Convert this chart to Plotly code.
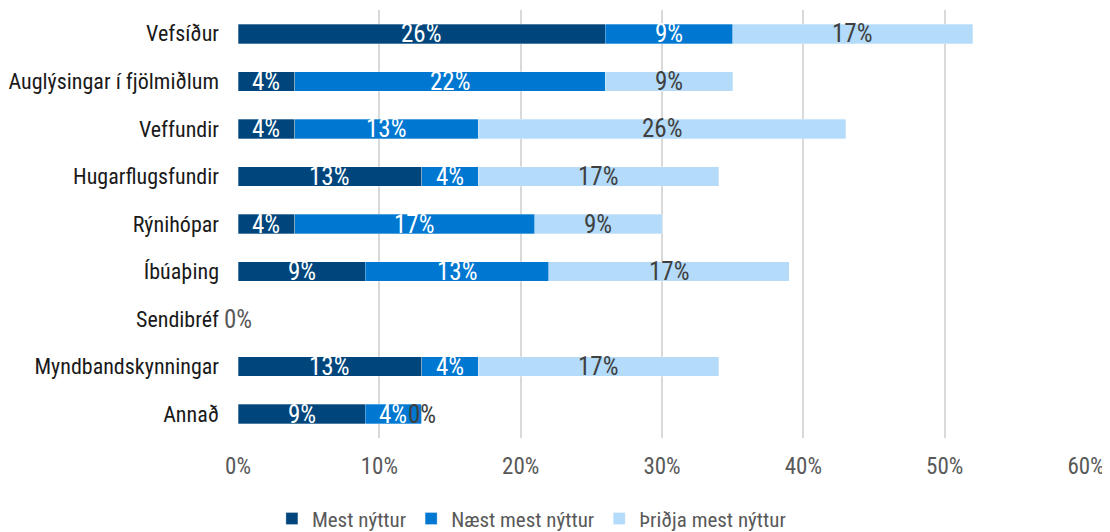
import plotly.graph_objects as go

categories = ["Vefsíður", "Auglýsingar í fjölmiðlum", "Veffundir", "Hugarflugsfundir",
              "Rýnihópar", "Íbúaþing", "Sendibréf", "Myndbandskynningar", "Annað"]
mest = [26, 4, 4, 13, 4, 9, 0, 13, 9]
naest = [9, 22, 13, 4, 17, 13, 0, 4, 4]
thridja = [17, 9, 26, 17, 9, 17, 0, 17, 0]
series_names = ["Mest nýttur", "Næst mest nýttur", "Þriðja mest nýttur"]
x_ticks = [0, 10, 20, 30, 40, 50, 60]

colors = ["#00467C", "#0077D0", "#B4DCFA"]
label_colors = ["#FFFFFF", "#FFFFFF", "#404040"]
FONT = "Roboto Condensed, sans-serif"

fig = go.Figure()
series = [mest, naest, thridja]
for name, vals, col in zip(series_names, series, colors):
    fig.add_trace(go.Bar(
        y=categories, x=vals, name=name, orientation="h",
        marker=dict(color=col, line=dict(color="rgba(255,255,255,0.6)", width=0.5)),
        hoverinfo="x+name",
    ))

annotations = []
for i, cat in enumerate(categories):
    base = 0
    if all(s[i] == 0 for s in series):
        annotations.append(dict(x=0, y=cat, xref="x", yref="y", text="0%", showarrow=False,
                                font=dict(family=FONT, size=25, color="#595959")))
        continue
    for vals, lc in zip(series, label_colors):
        v = vals[i]
        c = base + v / 2
        annotations.append(dict(x=c, y=cat, xref="x", yref="y", text=f"{v}%", showarrow=False,
                                font=dict(family=FONT, size=25,
                                          color=lc if v > 0 else "#404040")))
        base += v

fig.update_layout(
    barmode="stack",
    bargap=0.59,
    width=1110, height=532,
    margin=dict(l=230, r=32, t=2, b=102, autoexpand=False),
    plot_bgcolor="white", paper_bgcolor="white",
    font=dict(family=FONT, size=22, color="#595959"),
    xaxis=dict(range=[0, 60], tickvals=x_ticks, ticktext=[f"{t}%" for t in x_ticks],
               showgrid=True, gridcolor="#D9D9D9", gridwidth=1.5, zeroline=False,
               showline=False, ticks="", automargin=False, ticklabelstandoff=12,
               tickfont=dict(family=FONT, size=23, color="#595959")),
    yaxis=dict(categoryorder="array", categoryarray=categories, autorange="reversed",
               showgrid=False, showline=False, ticks="", ticklen=0, automargin=False,
               ticklabelstandoff=18,
               tickfont=dict(family=FONT, size=22, color="#1A1A1A")),
    legend=dict(orientation="h", x=0.346, xanchor="center", y=-0.189, yanchor="middle",
                font=dict(family=FONT, size=21, color="#595959"),
                traceorder="normal", itemwidth=30),
    annotations=annotations,
)

fig.write_html("out.html")
